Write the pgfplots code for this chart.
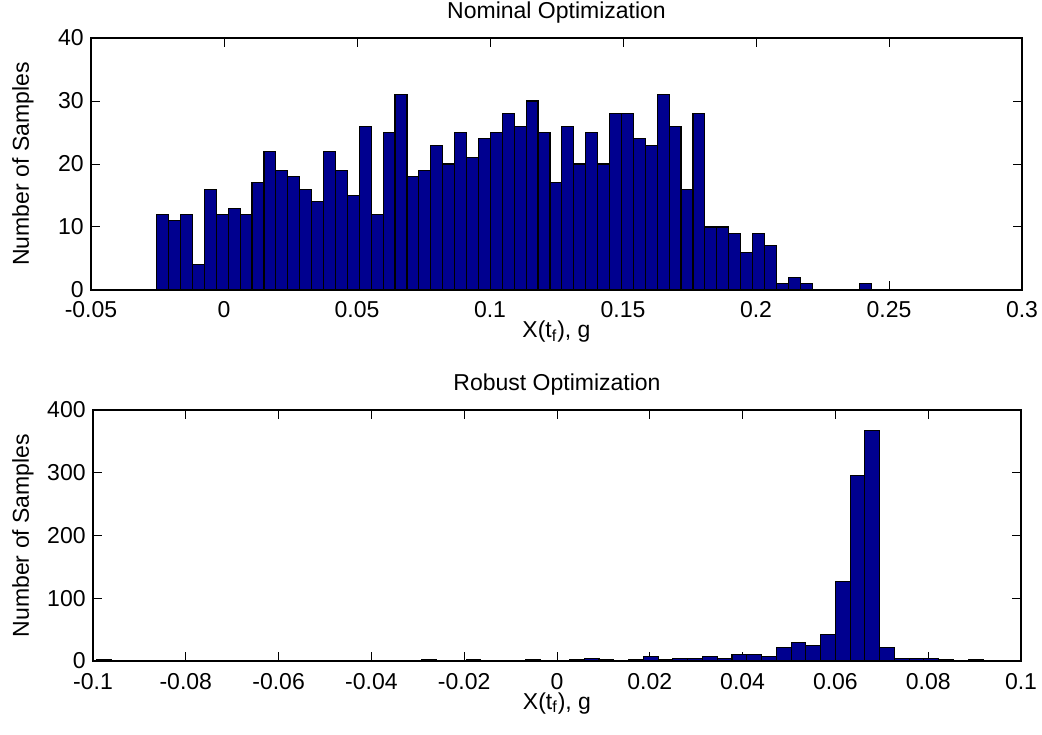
\documentclass[border=0pt]{standalone}
\usepackage{fontspec}
\setmainfont{Liberation Sans}
\usepackage{pgfplots}
\pgfplotsset{compat=1.18}
\definecolor{barblue}{RGB}{0,0,143}
\begin{document}
\fontsize{11.5}{13}\selectfont
\begin{tikzpicture}
\useasboundingbox (0,0) rectangle (521pt,367pt);
\pgfplotsset{
  every axis/.append style={
    scale only axis,
    anchor=south west,
    font=\fontsize{11.5}{13}\selectfont,
    tick align=inside,
    xtick pos=both, ytick pos=both,
    major tick length=4.5pt,
    axis line style={line width=0.6pt},
    every tick/.style={black, line width=0.5pt},
    enlargelimits=false,
    xticklabel style={anchor=base, yshift=-14pt},
    yticklabel style={anchor=east, inner sep=0pt, xshift=-3.5pt},
    xlabel style={at={(axis description cs:0.5,0)}, anchor=base, yshift=-24pt},
    title style={at={(axis description cs:0.5,1)}, anchor=base, yshift=4pt},
  }
}
% ---------------- Nominal ----------------
\begin{axis}[
  at={(45.5pt,222pt)}, width=465.5pt, height=126pt,
  xmin=-0.05, xmax=0.3, ymin=0, ymax=40,
  xtick={-0.05,0,0.05,0.1,0.15,0.2,0.25,0.3},
  xticklabels={-0.05,0,0.05,0.1,0.15,0.2,0.25,0.3},
  ytick={0,10,20,30,40},
  yticklabels={0,10,20,30,40},
  title={Nominal Optimization},
  xlabel={X(t\textsubscript{f}), g},
  ylabel={Number of Samples},
  ylabel style={at={(axis description cs:-0.0666,0.5)}, anchor=base},
]
\addplot[ybar interval, fill=barblue, draw=black, line width=0.55pt] coordinates {
(-0.02530,12) (-0.02082,11) (-0.01634,12) (-0.01186,4) (-0.00738,16)
(-0.00290,12) (0.00158,13) (0.00606,12) (0.01054,17) (0.01502,22)
(0.01950,19) (0.02398,18) (0.02846,16) (0.03294,14) (0.03742,22)
(0.04190,19) (0.04638,15) (0.05086,26) (0.05534,12) (0.05982,25)
(0.06430,31) (0.06878,18) (0.07326,19) (0.07774,23) (0.08222,20)
(0.08670,25) (0.09118,21) (0.09566,24) (0.10014,25) (0.10462,28)
(0.10910,26) (0.11358,30) (0.11806,25) (0.12254,17) (0.12702,26)
(0.13150,20) (0.13598,25) (0.14046,20) (0.14494,28) (0.14942,28)
(0.15390,24) (0.15838,23) (0.16286,31) (0.16734,26) (0.17182,16)
(0.17630,28) (0.18078,10) (0.18526,10) (0.18974,9) (0.19422,6)
(0.19870,9) (0.20318,7) (0.20766,1) (0.21214,2) (0.21662,1)
(0.22110,0) (0.22558,0) (0.23006,0) (0.23454,0) (0.23902,1)
(0.24350,1)
};
\end{axis}
% ---------------- Robust ----------------
\begin{axis}[
  at={(46.5pt,36.5pt)}, width=464pt, height=125.5pt,
  xmin=-0.1, xmax=0.1, ymin=0, ymax=400,
  xtick={-0.1,-0.08,-0.06,-0.04,-0.02,0,0.02,0.04,0.06,0.08,0.1},
  xticklabels={-0.1,-0.08,-0.06,-0.04,-0.02,0,0.02,0.04,0.06,0.08,0.1},
  ytick={0,100,200,300,400},
  yticklabels={0,100,200,300,400},
  title={Robust Optimization},
  xlabel={X(t\textsubscript{f}), g},
  ylabel={Number of Samples},
  ylabel style={at={(axis description cs:-0.069,0.5)}, anchor=base},
]
\addplot[ybar interval, fill=barblue, draw=black, line width=0.55pt] coordinates {
(-0.09914,2) (-0.09596,0) (-0.09277,0) (-0.08959,0) (-0.08641,0)
(-0.08323,0) (-0.08005,0) (-0.07686,0) (-0.07368,0) (-0.07050,0)
(-0.06732,0) (-0.06413,0) (-0.06095,0) (-0.05777,0) (-0.05459,0)
(-0.05140,0) (-0.04822,0) (-0.04504,0) (-0.04186,0) (-0.03867,0)
(-0.03549,0) (-0.03231,1) (-0.02913,2) (-0.02594,0) (-0.02276,0)
(-0.01958,2) (-0.01640,0) (-0.01321,0) (-0.01003,0) (-0.00685,2)
(-0.00367,0) (-0.00048,0) (0.00270,2) (0.00588,4) (0.00906,2)
(0.01225,0) (0.01543,2) (0.01861,7) (0.02179,2) (0.02498,4)
(0.02816,4) (0.03134,7) (0.03452,4) (0.03771,10) (0.04089,10)
(0.04407,7) (0.04725,22) (0.05044,30) (0.05362,25) (0.05680,42)
(0.05998,127) (0.06317,295) (0.06635,368) (0.06953,22) (0.07271,4)
(0.07590,4) (0.07908,4) (0.08226,2) (0.08544,0) (0.08863,2)
(0.09181,2)
};
\end{axis}
\end{tikzpicture}
\end{document}
